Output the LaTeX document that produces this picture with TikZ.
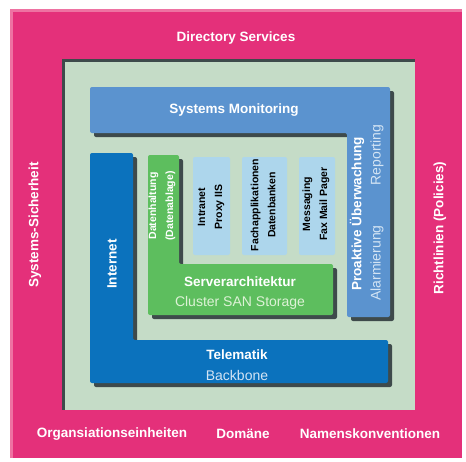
\documentclass[tikz,border=0pt]{standalone}
\usepackage{fontspec}
\setmainfont{Liberation Sans}
\usepackage{tikz}
\usetikzlibrary{shadows}

\definecolor{pinkc}{HTML}{E4307A}
\definecolor{pinkhi}{HTML}{EE72A2}
\definecolor{sagec}{HTML}{C5DCC7}
\definecolor{monc}{HTML}{5B93CF}
\definecolor{inetc}{HTML}{0B72BD}
\definecolor{grnc}{HTML}{5DBE5E}
\definecolor{lbluec}{HTML}{ADD6EC}
\definecolor{shadc}{HTML}{3E4A4B}
\definecolor{subblue}{HTML}{D3E4F4}
\definecolor{subgreen}{HTML}{DDF2D6}

\tikzset{
	panel/.style={rounded corners=2pt, drop shadow={shadow xshift=4pt, shadow yshift=-4pt, fill=shadc, opacity=1}},
	title/.style={text=white, font=\bfseries\fontsize{13.5}{16}\selectfont, inner sep=0pt},
	subtitle/.style={font=\fontsize{14}{16}\selectfont, inner sep=0pt},
	boxtext/.style={text=black, align=center, font=\bfseries\fontsize{10.5}{17}\selectfont, inner sep=0pt, rotate=90}
}

\begin{document}
\begin{tikzpicture}[x={(1pt,0)}, y={(0,-1pt)}]
	\useasboundingbox (0,0) rectangle (466,461);

	% frame and background
	\fill[pinkc] (10,9) rectangle (462,458);
	\fill[pinkhi] (10,9) rectangle (462,12);
	\fill[pinkhi] (10,9) rectangle (13,458);
	\fill[shadc] (62,59) rectangle (415,410);
	\fill[sagec] (65,62) rectangle (415,410);

	% blocks
	\fill[panel, monc] (90,87) -- (390,87) -- (390,317) -- (347,317) -- (347,133) -- (90,133) -- cycle;
	\fill[panel, inetc] (90,153) -- (133,153) -- (133,340) -- (388,340) -- (388,383) -- (90,383) -- cycle;
	\fill[panel, grnc] (148,155) -- (179,155) -- (179,264) -- (333,264) -- (333,315) -- (148,315) -- cycle;
	\begin{scope}[panel, lbluec]
		\fill (193,157) rectangle (230,255);
		\fill (242,157) rectangle (287,255);
		\fill (299,157) rectangle (335,255);
	\end{scope}

	% frame labels
	\node[title] (dir) at (236,38) {Directory Services};
	\node[title, rotate=90] (sich) at (35,225) {Systems-Sicherheit};
	\node[title, rotate=90] (richt) at (440,228) {Richtlinien (Policies)};
	\node[title] (org) at (112,434) {Organsiationseinheiten};
	\node[title] (dom) at (243,434) {Domäne};
	\node[title] (nam) at (370,434) {Namenskonventionen};

	% block labels
	\node[title] (mon) at (234,110) {Systems Monitoring};
	\node[title, rotate=90] (pro) at (357,214) {Proaktive Überwachung};
	\node[subtitle, text=subblue, rotate=90] (alarm) at (377,263) {Alarmierung};
	\node[subtitle, text=subblue, rotate=90] (rep) at (377,155) {Reporting};
	\node[title, rotate=90] (inet) at (112,264) {Internet};
	\node[title] (tele) at (237,355) {Telematik};
	\node[subtitle, text=subblue] (bb) at (237,375) {Backbone};
	\node[title] (srv) at (240,282) {Serverarchitektur};
	\node[subtitle, text=subgreen] (clu) at (240,303) {Cluster SAN Storage};
	\node[boxtext, text=white] (dat) at (162,206) {Datenhaltung\\(Datenablage)};
	\node[boxtext] (intra) at (211,207) {Intranet\\Proxy IIS};
	\node[boxtext] (fach) at (263,205) {Fachapplikationen\\Datenbanken};
	\node[boxtext] (mess) at (316,204) {Messaging\\Fax Mail Pager};
\end{tikzpicture}
\end{document}
